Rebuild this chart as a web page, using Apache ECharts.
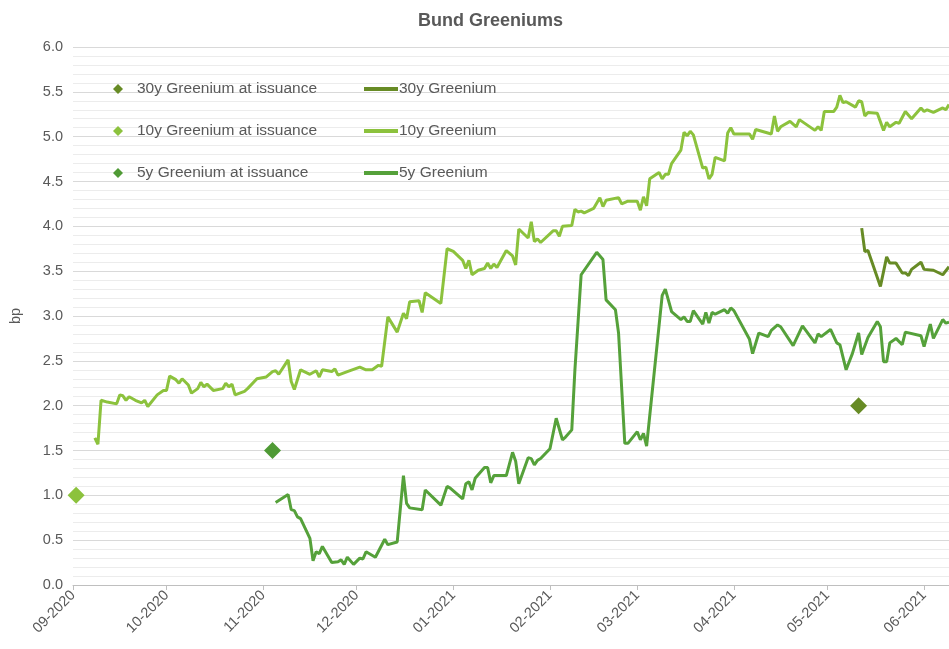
<!DOCTYPE html>
<html><head><meta charset="utf-8">
<script src="https://cdn.jsdelivr.net/npm/echarts@6/dist/echarts.min.js"></script>
<style>html,body{margin:0;padding:0;background:#fff}#c{width:949px;height:649px}</style>
</head><body><div id="c"></div>
<script>
const dates10y = ['2020-09-08','2020-09-09','2020-09-10','2020-09-12','2020-09-15','2020-09-16','2020-09-17','2020-09-18','2020-09-19','2020-09-21','2020-09-23','2020-09-24','2020-09-25','2020-09-28','2020-09-30',
'2020-10-01','2020-10-02','2020-10-04','2020-10-05','2020-10-06','2020-10-08','2020-10-09','2020-10-11','2020-10-12','2020-10-13','2020-10-14','2020-10-16','2020-10-19','2020-10-20','2020-10-21','2020-10-22','2020-10-23','2020-10-26','2020-10-27','2020-10-30',
'2020-11-02','2020-11-04','2020-11-05','2020-11-06','2020-11-09','2020-11-10','2020-11-11','2020-11-13','2020-11-16','2020-11-18','2020-11-19','2020-11-20','2020-11-23','2020-11-24','2020-11-25','2020-11-28',
'2020-12-02','2020-12-04','2020-12-06','2020-12-08','2020-12-09','2020-12-11','2020-12-14','2020-12-16','2020-12-17','2020-12-18','2020-12-21','2020-12-22','2020-12-23','2020-12-28','2020-12-30',
'2021-01-01','2021-01-04','2021-01-05','2021-01-06','2021-01-07','2021-01-09','2021-01-11','2021-01-12','2021-01-13','2021-01-14','2021-01-15','2021-01-18','2021-01-20','2021-01-21','2021-01-22','2021-01-25','2021-01-26','2021-01-27','2021-01-28','2021-01-29',
'2021-02-02','2021-02-03','2021-02-04','2021-02-05','2021-02-08','2021-02-09','2021-02-10','2021-02-11','2021-02-12','2021-02-15','2021-02-17','2021-02-18','2021-02-19','2021-02-23','2021-02-24','2021-02-26',
'2021-03-01','2021-03-02','2021-03-03','2021-03-04','2021-03-05','2021-03-08','2021-03-09','2021-03-10','2021-03-11','2021-03-12','2021-03-15','2021-03-16','2021-03-17','2021-03-18','2021-03-19','2021-03-22','2021-03-23','2021-03-24','2021-03-25','2021-03-26','2021-03-29','2021-03-30','2021-03-31',
'2021-04-01','2021-04-06','2021-04-07','2021-04-08','2021-04-13','2021-04-14','2021-04-15','2021-04-16','2021-04-19','2021-04-21','2021-04-22','2021-04-27','2021-04-28','2021-04-29','2021-04-30',
'2021-05-03','2021-05-04','2021-05-05','2021-05-06','2021-05-07','2021-05-10','2021-05-11','2021-05-12','2021-05-13','2021-05-14','2021-05-17','2021-05-19','2021-05-20','2021-05-21','2021-05-23','2021-05-24','2021-05-26','2021-05-28','2021-05-31',
'2021-06-01','2021-06-02','2021-06-04','2021-06-07','2021-06-08','2021-06-09'];
const values10y = [1.64,1.57,2.06,2.04,2.02,2.12,2.11,2.06,2.10,2.06,2.03,2.06,1.99,2.12,2.17,
2.17,2.33,2.29,2.25,2.30,2.23,2.14,2.19,2.26,2.21,2.24,2.17,2.19,2.25,2.21,2.24,2.12,2.16,2.19,2.30,
2.32,2.38,2.39,2.35,2.51,2.27,2.18,2.40,2.35,2.39,2.32,2.40,2.38,2.41,2.34,2.38,
2.43,2.40,2.40,2.45,2.44,2.99,2.82,3.03,2.97,3.16,3.17,3.04,3.26,3.14,3.75,
3.72,3.62,3.53,3.62,3.46,3.51,3.53,3.59,3.53,3.58,3.54,3.73,3.67,3.57,3.97,3.87,4.05,3.83,3.86,3.82,
3.95,3.95,3.89,4.00,4.01,4.19,4.16,4.17,4.15,4.20,4.32,4.22,4.29,4.32,4.25,4.28,
4.28,4.18,4.33,4.23,4.53,4.60,4.53,4.58,4.58,4.70,4.85,5.05,5.01,5.06,5.02,4.65,4.66,4.53,4.58,4.77,4.73,5.04,5.10,
5.03,5.03,4.97,5.08,5.03,5.23,5.06,5.11,5.17,5.11,5.19,5.07,5.11,5.07,5.28,
5.28,5.33,5.46,5.38,5.39,5.33,5.40,5.39,5.23,5.27,5.26,5.07,5.16,5.11,5.16,5.15,5.28,5.20,5.32,
5.28,5.30,5.27,5.32,5.30,5.36];

const dates5y = ['2020-11-05','2020-11-09','2020-11-10','2020-11-11','2020-11-12','2020-11-13','2020-11-16','2020-11-17','2020-11-18','2020-11-19','2020-11-20','2020-11-23','2020-11-25','2020-11-26','2020-11-27','2020-11-28','2020-11-30',
'2020-12-02','2020-12-03','2020-12-04','2020-12-07','2020-12-10','2020-12-11','2020-12-14','2020-12-16','2020-12-17','2020-12-18','2020-12-22','2020-12-23','2020-12-28','2020-12-30','2020-12-31',
'2021-01-04','2021-01-05','2021-01-06','2021-01-07','2021-01-08','2021-01-11','2021-01-12','2021-01-13','2021-01-14','2021-01-18','2021-01-20','2021-01-21','2021-01-22','2021-01-25','2021-01-26','2021-01-27','2021-01-28','2021-01-29',
'2021-02-01','2021-02-03','2021-02-05','2021-02-06','2021-02-08','2021-02-09','2021-02-11','2021-02-16','2021-02-18','2021-02-19','2021-02-22','2021-02-23','2021-02-25','2021-02-26',
'2021-03-01','2021-03-02','2021-03-03','2021-03-04','2021-03-09','2021-03-10','2021-03-12','2021-03-15','2021-03-16','2021-03-17','2021-03-18','2021-03-19','2021-03-22','2021-03-23','2021-03-24','2021-03-25','2021-03-26','2021-03-29','2021-03-30','2021-03-31',
'2021-04-01','2021-04-06','2021-04-07','2021-04-09','2021-04-12','2021-04-13','2021-04-15','2021-04-16','2021-04-20','2021-04-23','2021-04-27','2021-04-28','2021-04-29',
'2021-05-02','2021-05-04','2021-05-05','2021-05-07','2021-05-09','2021-05-11','2021-05-12','2021-05-14','2021-05-17','2021-05-18','2021-05-19','2021-05-20','2021-05-21','2021-05-23','2021-05-25','2021-05-26','2021-05-31',
'2021-06-01','2021-06-03','2021-06-04','2021-06-07','2021-06-08','2021-06-09'];
const values5y = [0.92,1.01,0.84,0.83,0.76,0.74,0.52,0.27,0.37,0.35,0.43,0.25,0.26,0.28,0.23,0.31,0.23,
0.30,0.29,0.37,0.31,0.51,0.45,0.48,1.22,0.91,0.86,0.84,1.06,0.89,1.10,1.08,
0.96,1.13,1.15,1.06,1.19,1.31,1.31,1.14,1.22,1.22,1.48,1.38,1.13,1.42,1.41,1.34,1.39,1.41,
1.52,1.86,1.62,1.65,1.73,2.40,3.46,3.71,3.63,3.18,3.07,2.81,1.58,1.58,
1.71,1.62,1.69,1.55,3.23,3.30,3.05,2.96,2.99,2.94,2.94,3.06,2.91,3.04,2.92,3.04,3.02,3.07,3.03,3.09,
3.06,2.74,2.58,2.81,2.77,2.84,2.90,2.88,2.67,2.89,2.70,2.80,2.77,
2.85,2.70,2.68,2.40,2.58,2.81,2.57,2.76,2.94,2.88,2.49,2.49,2.70,2.75,2.68,2.82,2.78,
2.66,2.91,2.75,2.96,2.92,2.93];

const dates30y = ['2021-05-12','2021-05-13','2021-05-14','2021-05-16','2021-05-18','2021-05-20','2021-05-21','2021-05-23','2021-05-25','2021-05-26','2021-05-27','2021-05-28','2021-05-31','2021-06-01','2021-06-04','2021-06-07','2021-06-09'];
const values30y = [3.98,3.72,3.73,3.53,3.33,3.66,3.59,3.59,3.48,3.48,3.45,3.52,3.60,3.52,3.51,3.46,3.55];

const issuanceNames = ['30y Greenium at issuance','10y Greenium at issuance','5y Greenium at issuance'];
const issuanceDates = ['2021-05-11','2020-09-02','2020-11-04'];
const issuanceValues = [2.0, 1.0, 1.5];
const lineNames = ['30y Greenium','10y Greenium','5y Greenium'];
const yTicks = [0,0.5,1,1.5,2,2.5,3,3.5,4,4.5,5,5.5,6];

const C30 = '#678b25', C10 = '#8cc23d', C5 = '#55a13a', C5d = '#4f9a35';
const txt = '#595959';
const FONT = 'Liberation Sans';

function zip(d, v){ return d.map((x,i)=>[x, v[i]]); }

const chart = echarts.init(document.getElementById('c'), null, {renderer:'canvas'});
chart.setOption({
  backgroundColor:'#ffffff',
  animation:false,
  title:{text:'Bund Greeniums', left:413, top:7, textStyle:{fontFamily:FONT, fontSize:18, fontWeight:'bold', color:txt}},
  grid:{left:72, right:0, top:47, bottom:64},
  legend:[
    {data:issuanceNames, orient:'vertical', left:108, top:76, icon:'diamond', itemWidth:10, itemHeight:10, itemGap:26,
     textStyle:{fontFamily:FONT, fontSize:15.5, color:txt, lineHeight:16, padding:[0,0,0,9]}},
    {data:lineNames, orient:'vertical', left:359, top:76, icon:'rect', itemWidth:34, itemHeight:4, itemGap:26,
     textStyle:{fontFamily:FONT, fontSize:15.5, color:txt, lineHeight:16, padding:[0,0,0,-4]}}
  ],
  xAxis:{type:'time', min:'2020-09-01', max:'2021-06-09', splitNumber:10,
    axisLine:{lineStyle:{color:'#bfbfbf'}},
    axisTick:{show:true, length:5, lineStyle:{color:'#bfbfbf'}},
    splitLine:{show:false},
    axisLabel:{rotate:45, margin:8, fontFamily:FONT, fontSize:14.5, color:txt, hideOverlap:false,
      formatter:function(v){const d=new Date(v); return String(d.getMonth()+1).padStart(2,'0')+'-'+d.getFullYear();}}
  },
  yAxis:{type:'value', min:yTicks[0], max:yTicks[yTicks.length-1], interval:0.5,
    name:'bp', nameLocation:'middle', nameGap:50, nameTextStyle:{fontFamily:FONT, fontSize:14.5, color:txt},
    axisLine:{show:false}, axisTick:{show:false},
    axisLabel:{fontFamily:FONT, fontSize:14.5, color:txt, margin:10, formatter:v=>v.toFixed(1)},
    splitLine:{lineStyle:{color:'#d9d9d9', width:1}},
    minorTick:{show:false, splitNumber:5},
    minorSplitLine:{show:true, lineStyle:{color:'#ececec', width:1}}
  },
  series:[
    {name:issuanceNames[0], type:'scatter', symbol:'diamond', symbolSize:17, itemStyle:{color:C30, opacity:1}, data:[[issuanceDates[0], issuanceValues[0]]], z:5},
    {name:issuanceNames[1], type:'scatter', symbol:'diamond', symbolSize:17, itemStyle:{color:C10, opacity:1}, data:[[issuanceDates[1], issuanceValues[1]]], z:5},
    {name:issuanceNames[2], type:'scatter', symbol:'diamond', symbolSize:17, itemStyle:{color:C5d, opacity:1}, data:[[issuanceDates[2], issuanceValues[2]]], z:5},
    {name:lineNames[0], type:'line', showSymbol:false, symbol:'none', lineStyle:{width:3, color:C30}, itemStyle:{color:C30}, data:zip(dates30y, values30y)},
    {name:lineNames[1], type:'line', showSymbol:false, symbol:'none', lineStyle:{width:3, color:C10}, itemStyle:{color:C10}, data:zip(dates10y, values10y)},
    {name:lineNames[2], type:'line', showSymbol:false, symbol:'none', lineStyle:{width:3, color:C5}, itemStyle:{color:C5}, data:zip(dates5y, values5y)}
  ]
});
</script></body></html>
